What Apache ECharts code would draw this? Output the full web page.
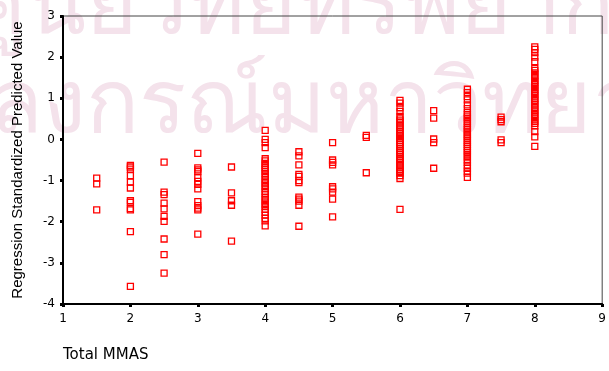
<!DOCTYPE html>
<html>
<head>
<meta charset="utf-8">
<script src="https://cdn.jsdelivr.net/npm/echarts@6/dist/echarts.min.js"></script>
<style>
  html, body { margin: 0; padding: 0; background: #fff; }
  #chart { width: 609px; height: 371px; }
</style>
</head>
<body>
<div id="chart"></div>
<script>
// Total MMAS score groups and the predicted values
const mmas15 = [-0.94, -1.08, -1.71];
const mmas20 = [-0.63, -0.67, -0.72, -0.88, -1.04, -1.18, -1.49, -1.53, -1.68, -1.71, -2.24, -3.57];
const mmas25 = [-0.55, -1.28, -1.34, -1.55, -1.69, -1.87, -1.99, -2.42, -2.8, -3.25];
const mmas30 = [-0.34, -0.69, -0.74, -0.78, -0.93, -1.02, -1.09, -1.2, -1.51, -1.61, -1.67, -1.71, -2.3];
const mmas35 = [-0.67, -1.3, -1.49, -1.6, -2.47];
const mmas40 = [0.22, 0.0, -0.08, -0.2, -0.47, -0.52, -0.58, -0.63, -0.68, -0.72, -0.78, -0.84, -0.9,
  -0.97, -1.03, -1.08, -1.14, -1.2, -1.27, -1.33, -1.4, -1.46, -1.52, -1.58, -1.63, -1.7, -1.77,
  -1.84, -1.92, -1.98, -2.1];
const mmas45 = [-0.3, -0.4, -0.62, -0.85, -0.9, -1.0, -1.05, -1.4, -1.45, -1.5, -1.6, -2.11];
const mmas50 = [-0.08, -0.5, -0.56, -0.62, -1.15, -1.2, -1.28, -1.45, -1.88];
const mmas55 = [0.1, 0.05, -0.81];
const mmas60 = [0.95, 0.88, 0.77, 0.68, 0.56, 0.5, 0.45, 0.4, 0.34, 0.3, 0.25, 0.2, 0.15, 0.1, 0.06,
  0.02, -0.03, -0.08, -0.12, -0.17, -0.22, -0.27, -0.31, -0.36, -0.41, -0.46, -0.5, -0.55, -0.6,
  -0.64, -0.69, -0.74, -0.78, -0.82, -0.88, -0.95, -1.7];
const mmas65 = [0.7, 0.52, 0.01, -0.08, -0.7];
const mmas70 = [1.22, 1.14, 1.04, 0.96, 0.84, 0.75, 0.65, 0.6, 0.55, 0.5, 0.44, 0.39, 0.33, 0.28,
  0.23, 0.18, 0.12, 0.08, 0.03, -0.02, -0.07, -0.12, -0.17, -0.22, -0.27, -0.32, -0.38, -0.43,
  -0.5, -0.56, -0.63, -0.7, -0.77, -0.82, -0.92];
const mmas75 = [0.54, 0.48, 0.43, -0.01, -0.08];
const mmas80 = [2.25, 2.19, 2.11, 2.0, 1.89, 1.73, 1.68, 1.62, 1.56, 1.5, 1.44, 1.39, 1.33, 1.28,
  1.22, 1.17, 1.11, 1.06, 1.0, 0.95, 0.89, 0.84, 0.78, 0.72, 0.67, 0.61, 0.56, 0.5, 0.44, 0.39,
  0.33, 0.19, 0.06, -0.17];

const scoreLevels = [1.5, 2, 2.5, 3, 3.5, 4, 4.5, 5, 5.5, 6, 6.5, 7, 7.5, 8];
const columns = [mmas15, mmas20, mmas25, mmas30, mmas35, mmas40, mmas45, mmas50,
  mmas55, mmas60, mmas65, mmas70, mmas75, mmas80];

const points = [];
scoreLevels.forEach((x, i) => {
  columns[i].forEach((y) => points.push([x, y]));
});

const chart = echarts.init(document.getElementById('chart'));

const axisFont = { fontFamily: 'DejaVu Sans', fontSize: 12, color: '#000' };
const watermarkColor = '#f4e2eb';

const option = {
  animation: false,
  backgroundColor: '#fff',
  grid: {
    left: 63,
    right: 2,
    top: 16,
    bottom: 67,
    show: true,
    borderColor: '#444',
    borderWidth: 1,
    backgroundColor: 'transparent',
  },
  graphic: [
    // faint background watermark
    {
      type: 'text',
      left: -30,
      top: -36,
      silent: true,
      z: -10,
      style: {
        text: 'ศูนย์วิทยทรัพยากร',
        fontSize: 88,
        fill: watermarkColor,
        fontFamily: 'Noto Sans, DejaVu Sans',
      },
    },
    {
      type: 'text',
      left: -172,
      top: 63,
      silent: true,
      z: -10,
      style: {
        text: 'จุฬาลงกรณ์มหาวิทยาลัย',
        fontSize: 88,
        fill: watermarkColor,
        fontFamily: 'Noto Sans, DejaVu Sans',
      },
    },
    {
      type: 'text',
      left: 63,
      top: 348,
      style: {
        text: 'Total MMAS',
        fontFamily: 'DejaVu Sans',
        fontSize: 15,
        fill: '#000',
      },
    },
  ],
  xAxis: {
    type: 'value',
    min: 1,
    max: 9,
    interval: 1,
    splitLine: { show: false },
    axisLine: { onZero: false, lineStyle: { color: '#000', width: 2 } },
    axisTick: { length: 3, lineStyle: { color: '#000', width: 3 } },
    axisLabel: Object.assign({ margin: 9, showMaxLabel: true }, axisFont),
  },
  yAxis: {
    type: 'value',
    min: -4,
    max: 3,
    interval: 1,
    name: 'Regression Standardized Predicted Value',
    nameLocation: 'middle',
    nameGap: 38,
    nameTextStyle: { fontFamily: 'Liberation Sans', fontSize: 15, color: '#000' },
    splitLine: { show: false },
    axisLine: { show: true, onZero: false, lineStyle: { color: '#000', width: 2 } },
    axisTick: { show: true, length: 3, lineStyle: { color: '#000', width: 3 } },
    axisLabel: Object.assign({ margin: 8 }, axisFont),
  },
  series: [
    {
      type: 'scatter',
      data: points,
      symbol: 'rect',
      symbolSize: 6,
      itemStyle: {
        color: 'rgba(255,255,255,0)',
        borderColor: '#ff0000',
        borderWidth: 1.3,
        opacity: 1,
      },
    },
  ],
};

chart.setOption(option);
</script>
</body>
</html>
